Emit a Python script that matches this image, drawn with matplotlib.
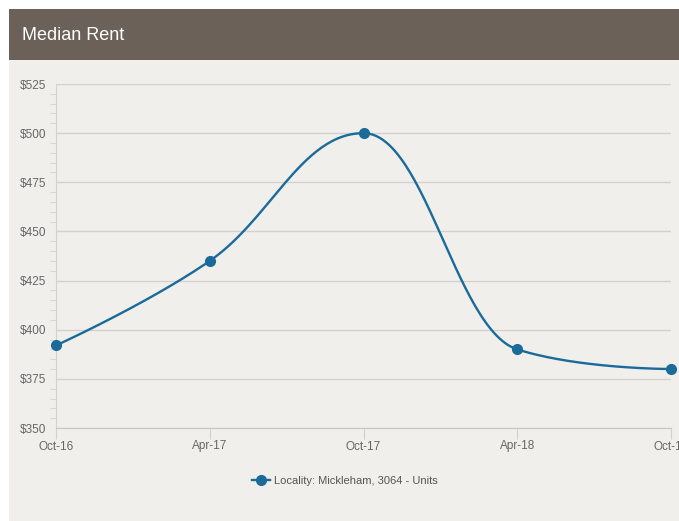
import numpy as np
import matplotlib.pyplot as plt
from matplotlib.patches import Rectangle
from matplotlib.ticker import MultipleLocator, FuncFormatter
from matplotlib.lines import Line2D

plt.rcParams['font.family'] = ['Liberation Sans', 'DejaVu Sans']

# chart data
months = ['Oct-16', 'Apr-17', 'Oct-17', 'Apr-18', 'Oct-18']
rent = [392, 435, 500, 390, 380]
series_name = 'Locality: Mickleham, 3064 - Units'

line_col = '#1a6a9a'
grid_col = '#d2d1cd'
text_col = '#666666'


def spline_path(xs, ys, smoothing=1.5, steps=60):
    # smooth curve through the points, highcharts style control points
    n = len(xs)
    denom = smoothing + 1
    left = [(xs[i], ys[i]) for i in range(n)]
    right = [(xs[i], ys[i]) for i in range(n)]
    for i in range(1, n - 1):
        lx = (smoothing * xs[i] + xs[i - 1]) / denom
        ly = (smoothing * ys[i] + ys[i - 1]) / denom
        rx = (smoothing * xs[i] + xs[i + 1]) / denom
        ry = (smoothing * ys[i] + ys[i + 1]) / denom
        corr = (ry - ly) * (rx - xs[i]) / (rx - lx) + ys[i] - ry
        ly += corr
        ry += corr
        if ly > ys[i - 1] and ly > ys[i]:
            ly = max(ys[i - 1], ys[i])
            ry = 2 * ys[i] - ly
        elif ly < ys[i - 1] and ly < ys[i]:
            ly = min(ys[i - 1], ys[i])
            ry = 2 * ys[i] - ly
        if ry > ys[i + 1] and ry > ys[i]:
            ry = max(ys[i + 1], ys[i])
            ly = 2 * ys[i] - ry
        elif ry < ys[i + 1] and ry < ys[i]:
            ry = min(ys[i + 1], ys[i])
            ly = 2 * ys[i] - ry
        left[i] = (lx, ly)
        right[i] = (rx, ry)
    t = np.linspace(0, 1, steps)
    px, py = [], []
    for i in range(n - 1):
        p0 = np.array([xs[i], ys[i]])
        p1 = np.array(right[i])
        p2 = np.array(left[i + 1])
        p3 = np.array([xs[i + 1], ys[i + 1]])
        pts = ((1 - t) ** 3)[:, None] * p0 + (3 * (1 - t) ** 2 * t)[:, None] * p1 \
            + (3 * (1 - t) * t ** 2)[:, None] * p2 + (t ** 3)[:, None] * p3
        px.extend(pts[:, 0])
        py.extend(pts[:, 1])
    return np.array(px), np.array(py)


fig = plt.figure(figsize=(6.79, 5.21), dpi=100)
fig.patch.set_facecolor('white')

# panel background and header band
fig.add_artist(Rectangle((9 / 679, 0), 670 / 679, 461 / 521, transform=fig.transFigure,
                         facecolor='#f0efeb', edgecolor='none', zorder=0))
fig.add_artist(Rectangle((9 / 679, 461 / 521), 670 / 679, 51 / 521, transform=fig.transFigure,
                         facecolor='#6b6158', edgecolor='none', zorder=0))
fig.text(22 / 679, 1 - 35 / 521, 'Median Rent', color='white', fontsize=13,
         va='center', ha='left')

ax = fig.add_axes([56 / 679, 1 - 428 / 521, 615 / 679, 344 / 521])
ax.set_facecolor('none')

x = np.arange(len(months))
sx, sy = spline_path(list(x), rent)
ax.plot(sx, sy, color=line_col, lw=1.7, zorder=3, clip_on=False)
ax.plot(x, rent, 'o', color=line_col, ms=7, zorder=4, clip_on=False)

ax.set_xlim(0, len(months) - 1)
ax.set_ylim(350, 525)
ax.yaxis.set_major_locator(MultipleLocator(25))
ax.yaxis.set_minor_locator(MultipleLocator(5))
ax.yaxis.set_major_formatter(FuncFormatter(lambda v, p: '$%d' % v))
ax.set_xticks(x)
ax.set_xticklabels(months)

ax.grid(axis='y', color=grid_col, lw=1)
for s in ['top', 'right']:
    ax.spines[s].set_visible(False)
ax.spines['left'].set_color(grid_col)
ax.spines['bottom'].set_color('#c8c7c3')
ax.tick_params(axis='y', which='major', length=0, pad=7, labelsize=8.5, labelcolor=text_col)
ax.tick_params(axis='y', which='minor', length=4, color=grid_col, direction='out')
ax.tick_params(axis='x', length=8, color=grid_col, pad=1, labelsize=8.5, labelcolor=text_col)

handle = Line2D([], [], color=line_col, lw=1.7, marker='o', ms=7)
leg = fig.legend([handle], [series_name], loc='center', bbox_to_anchor=(345 / 679, 1 - 481 / 521),
                 frameon=False, fontsize=8, handlelength=1.6, handletextpad=0.4)
for t in leg.get_texts():
    t.set_color('#555555')

plt.savefig('out.png', dpi=100)
